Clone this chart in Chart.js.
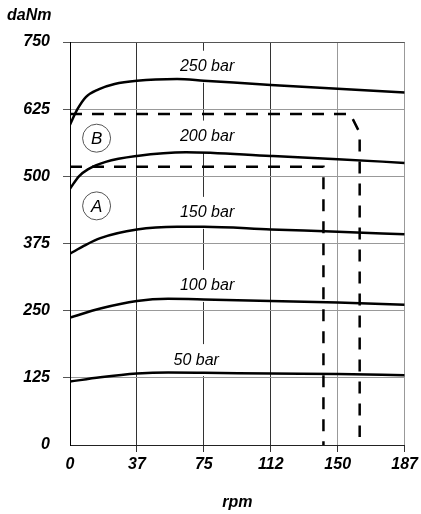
<!DOCTYPE html>
<html>
<head>
<meta charset="utf-8">
<script src="https://cdn.jsdelivr.net/npm/chart.js@4.4.1/dist/chart.umd.min.js"></script>
<style>
  body { margin: 0; background: #fff; }
  #wrap { width: 421px; height: 514px; }
</style>
</head>
<body>
<div id="wrap"><canvas id="torqueChart" width="421" height="514"></canvas></div>
<script>
// torque curves (rpm -> daNm)
const rpm250 = [0, 4, 9, 16, 25, 37.5, 60, 75, 112.5, 150, 187.5];
const bar250 = [596, 624, 648, 662, 672, 678, 681, 678, 670, 663, 656];

const rpm200 = [0, 5, 10, 20, 37.5, 65, 112.5, 150, 187.5];
const bar200 = [477, 500, 513, 527, 538, 545, 538, 532, 525];

const rpm150 = [0, 8, 17, 37.5, 60, 75, 112.5, 150, 187.5];
const bar150 = [356, 371, 385, 401, 406, 406, 401, 397, 392];

const rpm100 = [0, 17, 37.5, 55, 75, 112.5, 150, 187.5];
const bar100 = [237, 254, 268, 272, 271, 268, 265, 261];

const rpm50 = [0, 17, 37.5, 55, 75, 112.5, 150, 187.5];
const bar50 = [118, 126, 133, 135, 134.5, 133, 132, 130];

// limit lines A and B
const rpmA = [0, 142, 142];
const limA = [518, 518, 0];
const rpmB = [0, 157, 162.3, 162.3];
const limB = [616, 616, 581, 15];

const xTickLabels = ['0', '37', '75', '112', '150', '187'];
const yTickLabels = ['0', '125', '250', '375', '500', '625', '750'];
const curveNames = ['250 bar', '200 bar', '150 bar', '100 bar', '50 bar'];

function toPoints(xs, ys) {
  return xs.map((x, i) => ({ x: x, y: ys[i] }));
}

const curve = (data) => ({
  data: data,
  borderColor: '#000',
  borderWidth: 2.5,
  pointRadius: 0,
  cubicInterpolationMode: 'monotone',
  fill: false
});

const limit = (data) => ({
  data: data,
  borderColor: '#000',
  borderWidth: 2.5,
  borderDash: [12, 10],
  pointRadius: 0,
  tension: 0,
  fill: false
});

// where the curve names and circle markers sit (data units)
const nameSpots = [[76.8, 704], [76.8, 574], [76.8, 432], [76.8, 296], [70.7, 158]];
const circleSpots = [['B', 14.9, 571], ['A', 14.9, 445]];

const labelFont = 'italic 16px "Liberation Sans", Arial, sans-serif';
const tickFont = { family: '"Liberation Sans", Arial, sans-serif', size: 16, style: 'italic', weight: 'bold' };

const annotations = {
  id: 'annotations',
  beforeDatasetsDraw(chart) {
    const { ctx, scales: { x, y } } = chart;
    ctx.save();
    ctx.font = labelFont;
    ctx.fillStyle = '#fff';
    // white boxes behind the curve names (they hide the grid line)
    nameSpots.forEach((p, i) => {
      const w = ctx.measureText(curveNames[i]).width + 8;
      const cx = x.getPixelForValue(p[0]);
      const cy = y.getPixelForValue(p[1]);
      ctx.fillRect(cx - w / 2, cy - 16, w, 32);
    });
    ctx.restore();
  },
  afterDraw(chart) {
    const { ctx, scales: { x, y } } = chart;
    ctx.save();
    ctx.fillStyle = '#000';
    ctx.textAlign = 'center';
    ctx.textBaseline = 'middle';
    ctx.font = labelFont;
    nameSpots.forEach((p, i) => {
      ctx.fillText(curveNames[i], x.getPixelForValue(p[0]), y.getPixelForValue(p[1]));
    });

    circleSpots.forEach(c => {
      const cx = x.getPixelForValue(c[1]);
      const cy = y.getPixelForValue(c[2]);
      ctx.beginPath();
      ctx.arc(cx, cy, 14, 0, Math.PI * 2);
      ctx.strokeStyle = '#555';
      ctx.lineWidth = 1;
      ctx.stroke();
      ctx.font = 'italic 17px "Liberation Sans", Arial, sans-serif';
      ctx.fillText(c[0], cx, cy + 1);
    });

    // unit label top left
    ctx.textAlign = 'left';
    ctx.font = 'bold italic 16px "Liberation Sans", Arial, sans-serif';
    ctx.fillText('daNm', 7, 16);
    ctx.restore();
  }
};

const ctx = document.getElementById('torqueChart').getContext('2d');
new Chart(ctx, {
  type: 'line',
  data: {
    datasets: [
      curve(toPoints(rpm250, bar250)),
      curve(toPoints(rpm200, bar200)),
      curve(toPoints(rpm150, bar150)),
      curve(toPoints(rpm100, bar100)),
      curve(toPoints(rpm50, bar50)),
      limit(toPoints(rpmA, limA)),
      limit(toPoints(rpmB, limB))
    ]
  },
  options: {
    responsive: false,
    animation: false,
    layout: { padding: { top: 42, right: 14, left: 0, bottom: 0 } },
    plugins: {
      legend: { display: false },
      tooltip: { enabled: false }
    },
    scales: {
      x: {
        type: 'linear',
        min: 0,
        max: 187.5,
        afterFit: (s) => { s.height = 69; },
        afterBuildTicks: (s) => { s.ticks = xTickLabels.map((t, i) => ({ value: i * 37.5 })); },
        ticks: {
          color: '#000',
          font: tickFont,
          padding: 3,
          maxRotation: 0,
          callback: (v, i) => xTickLabels[i]
        },
        grid: {
          color: (c) => c.tick && c.tick.value >= 150 ? '#999' : '#333',
          tickColor: (c) => c.tick && c.tick.value === 0 ? 'rgba(0,0,0,0)' : '#333',
          tickLength: 7,
          lineWidth: 1
        },
        border: { color: '#222', width: 1 },
        title: {
          display: true,
          text: 'rpm',
          color: '#000',
          font: tickFont,
          padding: { top: 0, bottom: 2 }
        }
      },
      y: {
        min: 0,
        max: 750,
        afterFit: (s) => { s.width = 70; },
        afterBuildTicks: (s) => { s.ticks = yTickLabels.map((t, i) => ({ value: i * 125 })); },
        ticks: {
          color: '#000',
          font: tickFont,
          padding: 13,
          callback: (v, i) => yTickLabels[i]
        },
        grid: {
          color: (c) => {
            if (!c.tick) return '#999';
            if (c.tick.value === 750) return '#555';
            if (c.tick.value === 0) return '#222';
            return '#999';
          },
          tickColor: (c) => c.tick && c.tick.value === 0 ? 'rgba(0,0,0,0)' : '#555',
          tickLength: 7,
          lineWidth: 1
        },
        border: { color: '#000', width: 1 }
      }
    }
  },
  plugins: [annotations]
});
</script>
</body>
</html>
